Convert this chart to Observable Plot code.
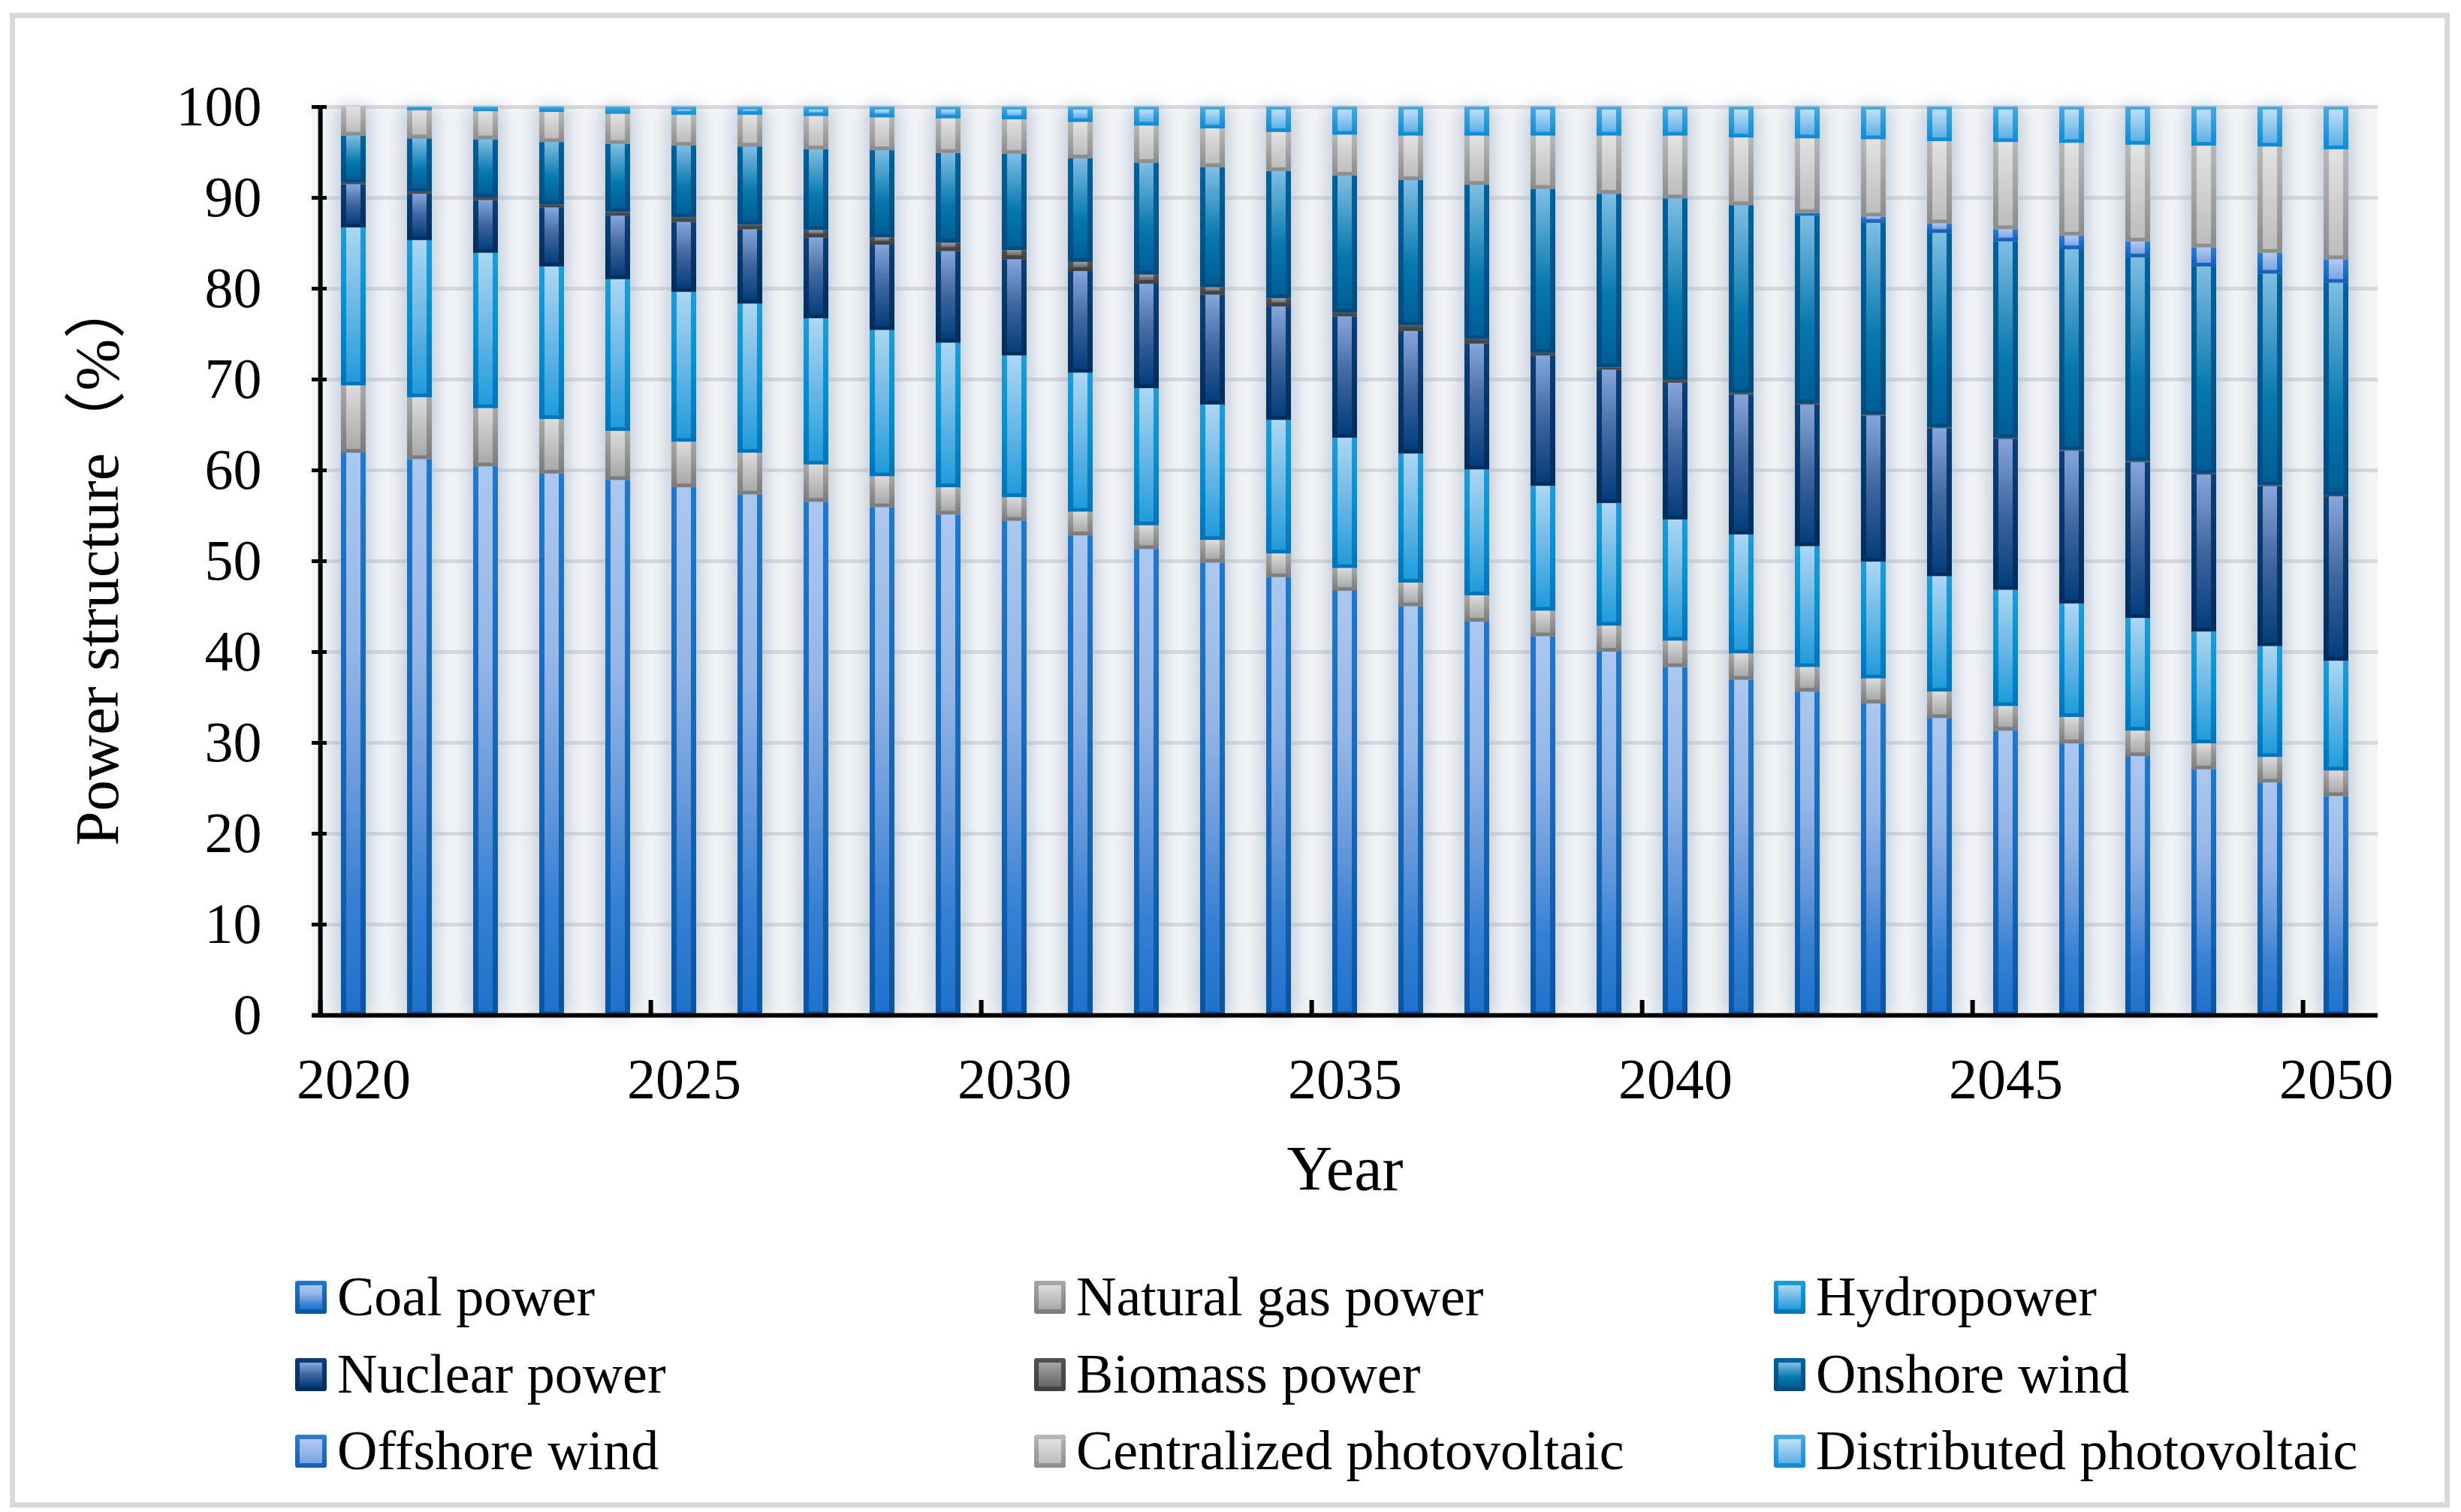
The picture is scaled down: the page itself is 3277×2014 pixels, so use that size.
<!DOCTYPE html>
<html>
<head>
<meta charset="utf-8">
<script src="https://cdn.jsdelivr.net/npm/d3@7"></script>
<script src="https://cdn.jsdelivr.net/npm/@observablehq/plot@0.6"></script>
<style>
html, body { margin: 0; padding: 0; background: #fff; }
#page { position: relative; width: 3277px; height: 2014px; overflow: hidden; font-family: "Liberation Serif", "Times New Roman", serif; }
#chart { position: absolute; left: 0; top: 0; }
#legend { position: absolute; left: 0; top: 1640px; }
#frame { position: absolute; left: 13px; top: 17px; width: 3249px; height: 1991px; box-sizing: border-box; border: 7px solid #d9d9d9; pointer-events: none; }
</style>
</head>
<body>
<div id="page">
  <div id="chart"></div>
  <svg id="legend" width="3277" height="374"></svg>
  <div id="frame"></div>
</div>
<script>
// ---------------- data ----------------
const years = [2020, 2021, 2022, 2023, 2024, 2025, 2026, 2027, 2028, 2029,
               2030, 2031, 2032, 2033, 2034, 2035, 2036, 2037, 2038, 2039,
               2040, 2041, 2042, 2043, 2044, 2045, 2046, 2047, 2048, 2049, 2050];

const seriesNames = ["Coal power", "Natural gas power", "Hydropower", "Nuclear power", "Biomass power",
                     "Onshore wind", "Offshore wind", "Centralized photovoltaic", "Distributed photovoltaic"];

const coal     = [61.9, 61.2, 60.4, 59.6, 58.9, 58.1, 57.3, 56.5, 55.9, 55.1, 54.4, 52.8, 51.3, 49.8, 48.2, 46.7,
                  45.0, 43.3, 41.7, 40.0, 38.3, 36.9, 35.6, 34.3, 32.7, 31.3, 29.9, 28.5, 27.05, 25.6, 24.1];
const gas      = [7.4, 6.8, 6.4, 6.0, 5.4, 5.0, 4.6, 4.1, 3.4, 3.0, 2.6, 2.6, 2.6, 2.5, 2.6, 2.5,
                  2.6, 2.9, 2.8, 2.85, 2.9, 2.9, 2.7, 2.75, 2.9, 2.7, 2.9, 2.8, 2.85, 2.8, 2.8];
const hydro    = [17.4, 17.3, 17.1, 16.8, 16.7, 16.5, 16.4, 16.1, 16.1, 15.9, 15.6, 15.3, 15.1, 14.9, 14.7, 14.35,
                  14.2, 13.85, 13.75, 13.5, 13.35, 13.1, 13.3, 12.85, 12.7, 12.8, 12.5, 12.4, 12.3, 12.2, 12.1];
const nuclear  = [4.75, 5.1, 5.8, 6.5, 7.0, 7.7, 8.2, 8.9, 9.4, 10.1, 10.6, 11.2, 11.5, 12.1, 12.5, 13.35,
                  13.5, 13.85, 14.35, 14.7, 15.05, 15.4, 15.6, 16.1, 16.3, 16.6, 16.8, 17.15, 17.3, 17.6, 18.1];
const biomass  = [0.15, 0.2, 0.3, 0.3, 0.4, 0.5, 0.5, 0.8, 0.8, 0.9, 1.0, 1.0, 1.0, 0.8, 0.9, 0.45,
                  0.6, 0.5, 0.3, 0.25, 0.3, 0.2, 0.15, 0.1, 0.1, 0.1, 0.1, 0.1, 0.1, 0.1, 0.1];
const onshore  = [5.2, 5.9, 6.4, 6.9, 7.5, 7.9, 8.6, 8.9, 9.6, 9.9, 10.6, 11.4, 12.3, 13.25, 14.0, 15.05,
                  16.0, 17.0, 18.05, 19.1, 20.0, 20.65, 20.65, 21.1, 21.4, 21.65, 22.1, 22.45, 22.8, 23.3, 23.4];
const offshore = [0, 0, 0, 0, 0, 0, 0, 0, 0, 0, 0, 0, 0, 0, 0, 0,
                  0, 0, 0, 0, 0, 0, 0.3, 0.7, 1.05, 1.35, 1.5, 1.75, 2.1, 2.3, 2.6];
const centPV   = [3.2, 3.1, 3.1, 3.3, 3.3, 3.4, 3.5, 3.65, 3.6, 3.8, 3.8, 4.0, 4.1, 4.25, 4.3, 4.5,
                  4.9, 5.4, 5.85, 6.4, 6.9, 7.45, 8.2, 8.5, 9.05, 9.6, 10.2, 10.65, 11.2, 11.7, 12.1];
const distPV   = [0, 0.4, 0.5, 0.6, 0.8, 0.9, 0.9, 1.05, 1.2, 1.3, 1.4, 1.7, 2.1, 2.4, 2.8, 3.1,
                  3.2, 3.2, 3.2, 3.2, 3.2, 3.4, 3.5, 3.6, 3.8, 3.9, 4.0, 4.2, 4.3, 4.4, 4.7];

const seriesValues = [coal, gas, hydro, nuclear, biomass, onshore, offshore, centPV, distPV];

const yTicks = [0, 10, 20, 30, 40, 50, 60, 70, 80, 90, 100];
const gridTicks = [10, 20, 30, 40, 50, 60, 70, 80, 90, 100];
const labelYears = [2020, 2025, 2030, 2035, 2040, 2045, 2050];

// ---------------- styles ----------------
const styleKeys = ["coal", "gas", "hydro", "nuclear", "biomass", "onshore", "offshore", "cent", "dist"];
const gradients = {
  coal:     {outer: [[0, "#1f78cf"], [1, "#0a55a2"]],
             inner: [[0, "#abc8ee"], [0.35, "#95b6e6"], [0.6, "#6799dc"], [0.8, "#3580d4"], [1, "#1f72cc"]]},
  gas:      {outer: [[0, "#a8a8a8"], [1, "#7b7b7b"]], inner: [[0, "#dcdcdc"], [1, "#a9a9a9"]]},
  hydro:    {outer: [[0, "#1d9cda"], [0.5, "#0090d1"], [1, "#0073bb"]],
             inner: [[0, "#acd7f2"], [0.5, "#6cb8e6"], [1, "#1f9cdb"]]},
  nuclear:  {outer: [[0, "#0b3f76"], [1, "#002d5c"]],
             inner: [[0, "#86a6db"], [0.5, "#3f66a0"], [1, "#023d7c"]]},
  biomass:  {outer: [[0, "#525252"], [1, "#3f3f3f"]], inner: [[0, "#a3a3a3"], [1, "#666666"]]},
  onshore:  {outer: [[0, "#00629c"], [1, "#004b7f"]],
             inner: [[0, "#80bee3"], [0.6, "#0579ae"], [1, "#005e96"]]},
  offshore: {outer: [[0, "#2d7bd6"], [1, "#1060b8"]], inner: [[0, "#b3caf0"], [1, "#7ba4e2"]]},
  cent:     {outer: [[0, "#b8b8b8"], [1, "#8c8c8c"]], inner: [[0, "#e2e2e2"], [1, "#bdbdbd"]]},
  dist:     {outer: [[0, "#4aa9e1"], [1, "#0b8bd3"]], inner: [[0, "#bfe0f6"], [1, "#5db0e6"]]}
};

// ---------------- table ----------------
const rows = [];
years.forEach((year, i) => {
  let acc = 0;
  seriesNames.forEach((name, s) => {
    const v = seriesValues[s][i];
    rows.push({year, series: name, value: v, y1: acc, y2: acc + v,
               top: s === seriesNames.length - 1,
               outer: `url(#o-${styleKeys[s]})`, inner: `url(#i-${styleKeys[s]})`});
    acc += v;
  });
});

// ---------------- layout ----------------
const W = 3277, H = 1640;
const mL = 415, mR = 111, mT = 142, mB = H - 1352;
const step = (W - mL - mR) / years.length;
const half = step / 2;
const font = "'Liberation Serif', 'Times New Roman', 'Noto Sans CJK SC', serif";

const chart = Plot.plot({
  width: W, height: H,
  marginLeft: mL, marginRight: mR, marginTop: mT, marginBottom: mB,
  style: {fontFamily: font, background: "transparent", color: "#000", overflow: "visible"},
  x: {type: "band", domain: years, paddingInner: 0.63, paddingOuter: 0.315, axis: null, label: null},
  y: {domain: [0, 100], axis: null, label: null},
  color: {type: "identity"},
  marks: [
    Plot.frame({fill: "#f4f5f7", stroke: null}),
    Plot.ruleY(gridTicks, {stroke: "#d7d9dd", strokeWidth: 5}),
    Plot.barY(years, {x: d => d, y1: 0, y2: 100, fill: "#9fb0c6", fillOpacity: 0.6, insetLeft: -7, insetRight: -7}),
    Plot.barY(rows.filter(d => d.value > 0), {x: "year", y1: "y1", y2: "y2", fill: "outer"}),
    Plot.barY(rows.filter(d => d.value >= 0.7 && !d.top), {x: "year", y1: "y1", y2: "y2", fill: "inner",
      insetLeft: 7, insetRight: 7, insetBottom: 5}),
    Plot.barY(rows.filter(d => d.value >= 0.9 && d.top), {x: "year", y1: "y1", y2: "y2", fill: "inner",
      insetLeft: 7, insetRight: 7, insetBottom: 5, insetTop: 4}),
    Plot.ruleY([0], {stroke: "#000", strokeWidth: 6}),
    Plot.ruleX([years[0]], {y1: 0, y2: 100, dx: -half, stroke: "#000", strokeWidth: 6}),
    Plot.axisY({ticks: yTicks, tickSize: 0, tickPadding: 67, fontSize: 76, label: null, tickFormat: d => String(d)}),
    Plot.axisY({ticks: gridTicks, tickSize: 20, dx: 20, strokeWidth: 5, label: null, tickFormat: () => ""}),
    Plot.axisX({ticks: labelYears, tickSize: 0, tickPadding: 57, fontSize: 76, label: null, tickFormat: d => String(d)}),
    Plot.axisX({ticks: labelYears, tickSize: 20, dy: -20, dx: -half, strokeWidth: 6, label: null, tickFormat: () => ""}),
    Plot.text(["Year"], {text: d => d, frameAnchor: "bottom", textAnchor: "middle", lineAnchor: "middle",
      dy: 206, fontSize: 84, fill: "#000"}),
    Plot.text(["Power structure（%）"], {text: d => d, frameAnchor: "left", textAnchor: "middle", lineAnchor: "middle",
      dx: -285, rotate: -90, fontSize: 83, fill: "#000"})
  ]
});
document.getElementById("chart").appendChild(chart);

// gradients + blur filter
const svg = d3.select(chart);
const defs = svg.insert("defs", ":first-child");
for (const k of styleKeys) {
  for (const part of ["outer", "inner"]) {
    const g = defs.append("linearGradient")
      .attr("id", (part === "outer" ? "o-" : "i-") + k)
      .attr("x1", 0).attr("y1", 0).attr("x2", 0).attr("y2", 1);
    for (const [off, c] of gradients[k][part]) g.append("stop").attr("offset", off).attr("stop-color", c);
  }
}
defs.append("filter").attr("id", "soft").attr("x", "-100%").attr("y", "-10%").attr("width", "300%").attr("height", "120%")
  .append("feGaussianBlur").attr("stdDeviation", 12);
const barGroups = chart.querySelectorAll('g[aria-label="bar"]');
if (barGroups.length) barGroups[0].setAttribute("filter", "url(#soft)");

// ---------------- legend ----------------
const legendRows = [
  ["Coal power", "Natural gas power", "Hydropower"],
  ["Nuclear power", "Biomass power", "Onshore wind"],
  ["Offshore wind", "Centralized photovoltaic", "Distributed photovoltaic"]
];
const colX = [393, 1377, 2362];
const rowBase = [1752, 1855, 1957].map(v => v - 1640);
const lg = d3.select("#legend");
legendRows.forEach((row, r) => {
  row.forEach((name, c) => {
    const k = styleKeys[seriesNames.indexOf(name)];
    const top = rowBase[r] - 46;
    lg.append("rect").attr("x", colX[c]).attr("y", top).attr("width", 42).attr("height", 44)
      .attr("rx", 3).attr("fill", `url(#o-${k})`);
    lg.append("rect").attr("x", colX[c] + 6).attr("y", top + 6).attr("width", 30).attr("height", 32)
      .attr("fill", `url(#i-${k})`);
    lg.append("text").attr("x", colX[c] + 56).attr("y", rowBase[r])
      .attr("font-family", font).attr("font-size", 74).attr("fill", "#000").text(name);
  });
});
</script>
</body>
</html>
